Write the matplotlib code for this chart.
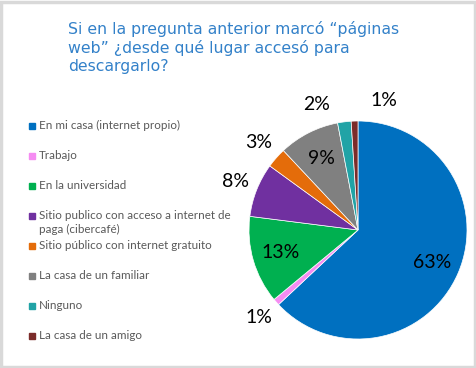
import numpy as np
import matplotlib.pyplot as plt
from matplotlib.patches import Rectangle

# datos del gráfico
categorias = [
    'En mi casa (internet propio)',
    'Trabajo',
    'En la universidad',
    'Sitio publico con acceso a internet de\npaga (cibercafé)',
    'Sitio público con internet gratuito',
    'La casa de un familiar',
    'Ninguno',
    'La casa de un amigo',
]
porcentajes = [63, 1, 13, 8, 3, 9, 2, 1]
colores = ['#0070C0', '#F58CF2', '#00B050', '#7030A0',
           '#E46C0A', '#808080', '#21A3A6', '#7B2C2A']

titulo = 'Si en la pregunta anterior marcó “páginas\nweb” ¿desde qué lugar accesó para\ndescargarlo?'

W, H = 477, 368
fig = plt.figure(figsize=(W / 100, H / 100), dpi=100)

# marco gris
fig.patches.append(Rectangle((0.002, 0.003), 0.994, 0.992, transform=fig.transFigure,
                             fill=False, edgecolor='#D9D9D9', linewidth=2.5))

fig.text(68 / W, 1 - 21 / H, titulo, fontsize=11.3, color='#3381C9',
         family='DejaVu Sans', va='top', ha='left', linespacing=1.25)

# pastel
cx, cy, r = 358, 230, 109
ax = fig.add_axes([(cx - r) / W, (H - cy - r) / H, 2 * r / W, 2 * r / H])
wedges, _ = ax.pie(porcentajes, colors=colores, startangle=90, counterclock=False,
                   radius=1, wedgeprops=dict(edgecolor='white', linewidth=0.5))
ax.set_xlim(-1, 1)
ax.set_ylim(-1, 1)
ax.set_aspect('equal')
ax.axis('off')

# etiquetas: dentro para las grandes, fuera para las pequeñas
dentro = [True, False, True, False, False, True, False, False]
ajuste_ang = [0, 0, 0, 0, 0, 0, 11, -13]
for w, p, d, da in zip(wedges, porcentajes, dentro, ajuste_ang):
    ang = np.radians((w.theta1 + w.theta2) / 2 + da)
    dist = 0.74 if d else 1.21
    ax.text(dist * np.cos(ang), dist * np.sin(ang), f'{p}%', ha='center', va='center',
            fontsize=14, family='Lato', color='black')

# leyenda
for i, (lab, col) in enumerate(zip(categorias, colores)):
    y = 126 + 30 * i
    fig.patches.append(Rectangle((29 / W, 1 - (y + 3) / H), 6 / W, 6 / H,
                                 transform=fig.transFigure, color=col))
    fig.text(39 / W, 1 - (y - 6) / H, lab, fontsize=8.4, family='Lato',
             color='#595959', va='top', ha='left', linespacing=1.3)

fig.savefig('out.png', dpi=100)
